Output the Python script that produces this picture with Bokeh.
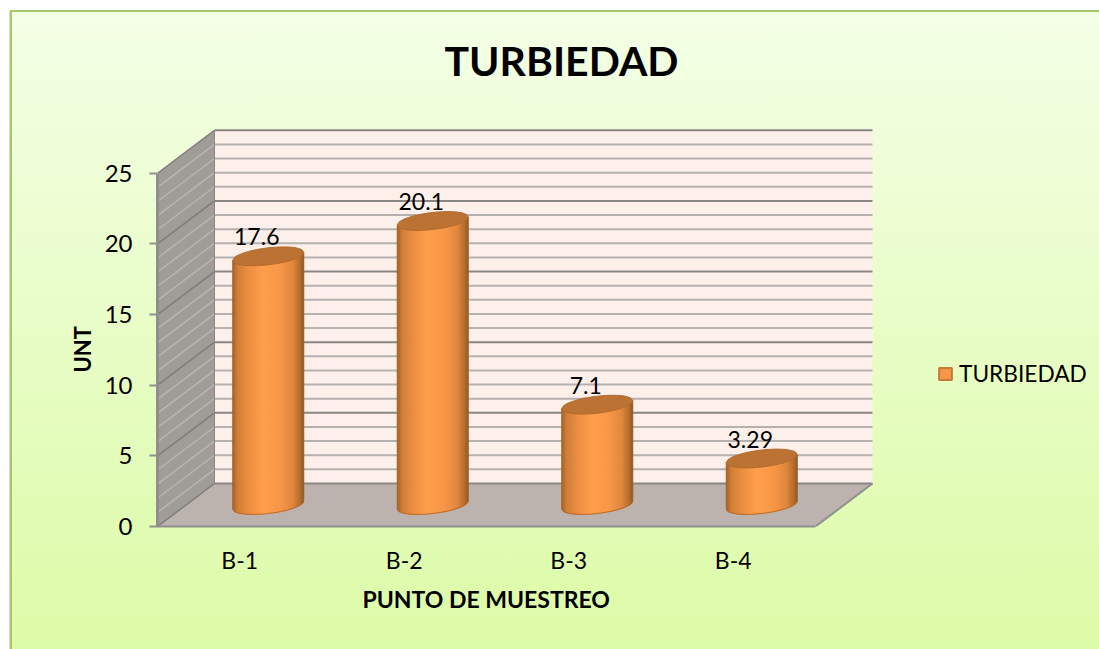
import numpy as np
from bokeh.plotting import figure
from bokeh.models import Range1d, Title, FixedTicker, Legend, LegendItem
from bokeh.core.properties import value
from bokeh.embed import file_html
from bokeh.resources import INLINE

categories = ["B-1", "B-2", "B-3", "B-4"]
turbidity = [17.6, 20.1, 7.1, 3.29]
labels = ["17.6", "20.1", "7.1", "3.29"]
y_ticks = [0, 5, 10, 15, 20, 25]
y_minor = [v for v in range(1, 25) if v % 5]
FONT = "Lato"

W, H = 1099, 649
L, R, T, B = 157, 1099, 84, 526       # frame edges in window px
UX, UY = 164.5, 14.13                 # px per category / per value unit
DX, DY = 57.0 / UX, 43.0 / UY         # chart depth, in data units
A, Bb, TILT = 35.5 / UX, 8.5 / UY, 4.0 / UY
NC = len(categories)
YMAX = y_ticks[-1]

p = figure(width=W, height=H, output_backend="svg", toolbar_location=None,
           x_range=Range1d(0, (R - L) / UX), y_range=Range1d(0, (B - T) / UY),
           min_border_left=L, min_border_right=W - R,
           min_border_top=T, min_border_bottom=H - B)
p.border_fill_color = None
p.background_fill_color = None
p.outline_line_color = None
p.grid.visible = False
p.styles = {
    "background":
        "linear-gradient(#A6C866,#A6C866) no-repeat 10px 10px / 2px 100%,"
        "linear-gradient(#A6C866,#A6C866) no-repeat 10px 10px / 100% 2px,"
        "linear-gradient(#D8D8D8,#D8D8D8) no-repeat 9px 11px / 1px 100%,"
        "linear-gradient(#F4FFE6,#DCFBA6) no-repeat 12px 12px / 100% 100%"
}

# walls and floor
p.patch([DX, NC + DX, NC + DX, DX], [DY, DY, YMAX + DY, YMAX + DY],
        fill_color="#FDF0EA", line_color=None)
p.patch([0, DX, DX, 0], [0, DY, YMAX + DY, YMAX],
        fill_color="#A09C98", line_color=None)
p.patch([0, NC, NC + DX, DX], [0, 0, DY, DY],
        fill_color="#BDB3AE", line_color=None)

# gridlines
p.multi_line([[DX, NC + DX] for _ in y_minor], [[v + DY, v + DY] for v in y_minor],
             line_color="#B5B1AF", line_width=2)
p.multi_line([[0, DX] for _ in y_minor], [[v, v + DY] for v in y_minor],
             line_color="#B8B6B4", line_width=1.5)
p.multi_line([[DX, NC + DX] for _ in y_ticks], [[v + DY, v + DY] for v in y_ticks],
             line_color="#8A8684", line_width=2)
p.multi_line([[0, DX] for _ in y_ticks], [[v, v + DY] for v in y_ticks],
             line_color="#7F7C7A", line_width=1.5)
p.line([DX, DX], [DY, YMAX + DY], line_color="#8A8684", line_width=1)
p.line([NC, NC + DX], [0, DY], line_color="#8F8F8F", line_width=2)

# cylinders
STOPS_T = [-1.0, -0.85, -0.55, -0.15, 0.35, 0.7, 0.9, 1.0]
STOPS_R = [0xA0, 0xD0, 0xEC, 0xFF, 0xF8, 0xE0, 0xB8, 0x96]
STOPS_G = [0x60, 0x7E, 0x8E, 0x9F, 0x97, 0x88, 0x70, 0x5A]
STOPS_B = [0x28, 0x38, 0x42, 0x4C, 0x47, 0x3E, 0x30, 0x26]
N = 71
edges = np.linspace(-1, 1, N + 1)
mids = (edges[:-1] + edges[1:]) / 2
cols = ["#%02x%02x%02x" % (int(np.interp(t, STOPS_T, STOPS_R)),
                           int(np.interp(t, STOPS_T, STOPS_G)),
                           int(np.interp(t, STOPS_T, STOPS_B))) for t in mids]
def front(t):
    return -Bb * np.sqrt(np.clip(1 - t * t, 0, 1)) + TILT * t
def back(t):
    return Bb * np.sqrt(np.clip(1 - t * t, 0, 1)) + TILT * t

base = DY / 2
for i, v in enumerate(turbidity):
    cx = i + 0.5 + DX / 2
    xs, ys, cs = [], [], []
    for k in range(N):
        t0, t1 = edges[k], edges[k + 1]
        xs.append([cx + A * t0, cx + A * t1, cx + A * t1, cx + A * t0])
        ys.append([base + front(t0), base + front(t1),
                   base + v + front(t1), base + v + front(t0)])
        cs.append(cols[k])
    p.patches(xs, ys, fill_color=cs, line_color=cs, line_width=1)
    tt = np.linspace(-1, 1, 41)
    p.line(cx + A * tt, base + front(tt), line_color="#B5692B", line_width=1)
    capx = np.concatenate([cx + A * tt, cx + A * tt[::-1]])
    capy = np.concatenate([base + v + front(tt), base + v + back(tt[::-1])])
    p.patch(capx, capy, fill_color="#BC7232", line_color="#B06A2C", line_width=1)

# data labels
p.text([i + 0.5 + DX / 2 - 11.5 / UX for i in range(NC)],
       [v + base + 19.5 / UY for v in turbidity], text=labels,
       text_font=value(FONT), text_font_size="23px", text_color="#000000",
       text_align="center", text_baseline="middle")

# axes
xa = p.xaxis[0]
xa.ticker = FixedTicker(ticks=[i + 0.5 for i in range(NC)])
xa.major_label_overrides = {i + 0.5: c for i, c in enumerate(categories)}
xa.bounds = (0, NC)
xa.major_tick_line_color = None
xa.minor_tick_line_color = None
xa.axis_line_color = "#8F8F8F"
xa.axis_line_width = 2
xa.major_label_standoff = 13
xa.major_label_text_font = FONT
xa.major_label_text_font_size = "23px"
xa.major_label_text_color = "#000000"

ya = p.yaxis[0]
ya.ticker = FixedTicker(ticks=y_ticks)
ya.bounds = (0, YMAX)
ya.minor_tick_line_color = None
ya.major_tick_line_color = "#8F8F8F"
ya.major_tick_line_width = 2
ya.major_tick_out = 8
ya.major_tick_in = 0
ya.axis_line_color = "#8F8F8F"
ya.axis_line_width = 3
ya.major_label_standoff = 17
ya.major_label_text_font = FONT
ya.major_label_text_font_size = "24px"
ya.major_label_text_color = "#000000"

# axis titles, as side titles so they are not clipped by the frame
p.add_layout(Title(text="PUNTO DE MUESTREO", align="left", offset=362 - L, standoff=13,
                   text_font=FONT, text_font_style="bold", text_font_size="23px",
                   text_color="#000000"), "below")
p.add_layout(Title(text="UNT", align="left", offset=B - 372, standoff=12,
                   text_font=FONT, text_font_style="bold", text_font_size="22px",
                   text_color="#000000"), "left")

# title
p.title = Title(text="TURBIEDAD", align="left", offset=444 - L, standoff=0,
                text_font=FONT, text_font_style="bold", text_font_size="41px",
                text_color="#000000")

# legend
sw = p.vbar(x=[-1], top=[turbidity[0]], width=0.1, fill_color="#F79646",
            line_color="#C47A3A", line_width=2)
leg = Legend(items=[LegendItem(label="TURBIEDAD", renderers=[sw])],
             location=(937 - L, B - 387), orientation="vertical",
             padding=0, margin=0, border_line_color=None, background_fill_color=None,
             glyph_width=16, glyph_height=15, label_standoff=6,
             label_text_font=FONT, label_text_font_size="22.7px", label_text_color="#000000")
p.add_layout(leg, "center")

open("out.html", "w").write(file_html(p, INLINE))
